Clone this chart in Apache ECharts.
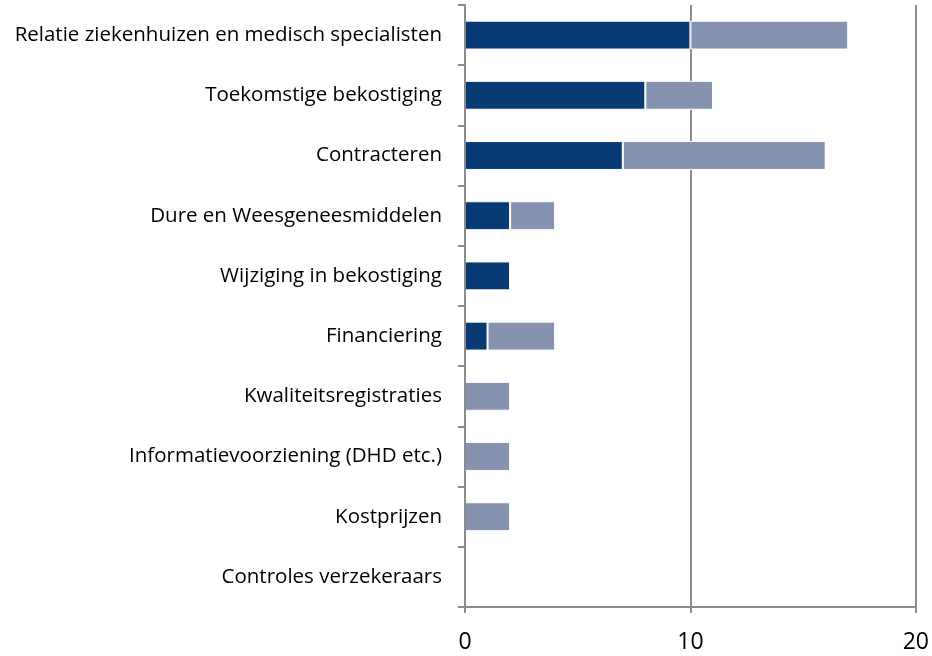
<!DOCTYPE html>
<html>
<head>
<meta charset="utf-8">
<script src="https://cdn.jsdelivr.net/npm/echarts@6/dist/echarts.min.js"></script>
<style>
  html, body { margin: 0; padding: 0; background: #fff; }
  #chart { width: 932px; height: 656px; }
</style>
</head>
<body>
<div id="chart"></div>
<script>
const categories = [
  'Relatie ziekenhuizen en medisch specialisten',
  'Toekomstige bekostiging',
  'Contracteren',
  'Dure en Weesgeneesmiddelen',
  'Wijziging in bekostiging',
  'Financiering',
  'Kwaliteitsregistraties',
  'Informatievoorziening (DHD etc.)',
  'Kostprijzen',
  'Controles verzekeraars',
]
const darkValues = [10, 8, 7, 2, 2, 1, 0, 0, 0, 0]
const lightValues = [7, 3, 9, 2, 0, 3, 2, 2, 2, 0]
const xTicks = [0, 10, 20]

const axisGrey = '#8c8c8c'
const font = '"Open Sans", sans-serif'

// empty segments get no mark (avoids a stray white border line)
const noZero = (arr) => arr.map((v) => (v === 0 ? null : v))

const chart = echarts.init(document.getElementById('chart'))
chart.setOption({
  animation: false,
  grid: { left: 465, right: 15, top: 5, bottom: 49, containLabel: false },
  xAxis: {
    type: 'value',
    min: xTicks[0],
    max: xTicks[xTicks.length - 1],
    interval: 10,
    axisLine: { show: true, lineStyle: { color: axisGrey, width: 2 } },
    axisTick: { show: true, length: 6, lineStyle: { color: axisGrey, width: 2 } },
    axisLabel: { fontSize: 23, color: '#000', fontFamily: font, margin: 24 },
    splitLine: { show: true, lineStyle: { color: axisGrey, width: 2 } },
  },
  yAxis: {
    type: 'category',
    data: categories,
    inverse: true,
    z: 5,
    axisLine: { show: true, lineStyle: { color: axisGrey, width: 2 } },
    axisTick: { show: true, length: 7, lineStyle: { color: axisGrey, width: 2 } },
    axisLabel: { fontSize: 20.5, color: '#000', fontFamily: font, margin: 23 },
  },
  series: [
    {
      type: 'bar',
      stack: 'total',
      data: noZero(darkValues),
      barWidth: '48%',
      itemStyle: { color: '#083a73', borderColor: '#fff', borderWidth: 1 },
    },
    {
      type: 'bar',
      stack: 'total',
      data: noZero(lightValues),
      itemStyle: { color: '#8592b0', borderColor: '#fff', borderWidth: 1 },
    },
  ],
})
</script>
</body>
</html>
